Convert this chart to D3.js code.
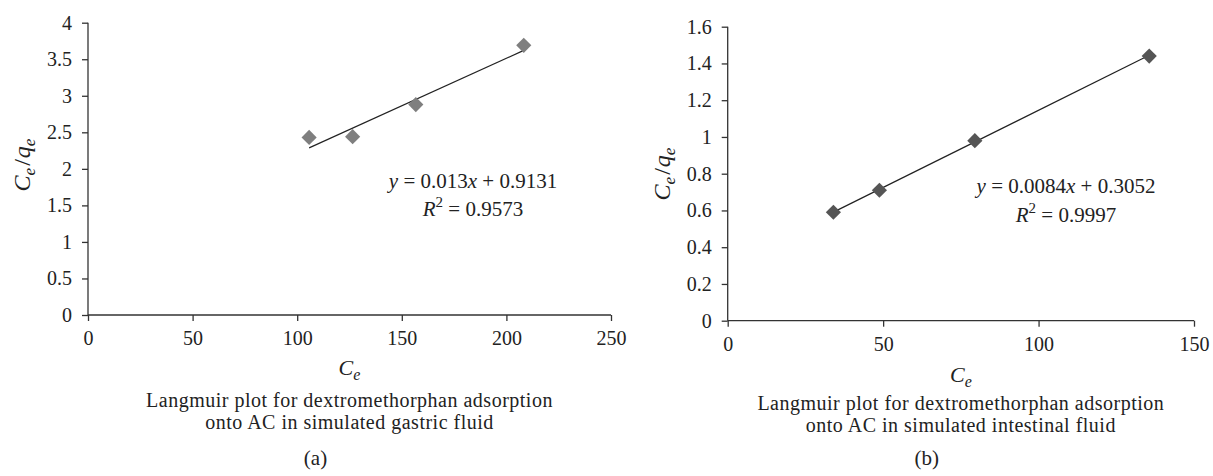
<!DOCTYPE html>
<html>
<head>
<meta charset="utf-8">
<script src="https://cdn.jsdelivr.net/npm/d3@7"></script>
<style>
  body { margin: 0; background: #fff; }
  svg { display: block; font-family: "Liberation Serif", "DejaVu Serif", serif; }
</style>
</head>
<body>
<svg id="chart" width="1213" height="476"></svg>
<script>
// data
const gastricCe = [105.7, 126.5, 156.7, 208.3];
const gastricRatio = [2.43, 2.44, 2.88, 3.69];
const gastricFit = [0.013, 0.9131]; // slope, intercept
const gastricR2 = "0.9573";
const gastricXTicks = [0, 50, 100, 150, 200, 250];
const gastricYTicks = [0, 0.5, 1, 1.5, 2, 2.5, 3, 3.5, 4];

const intestinalCe = [34.0, 48.8, 79.5, 135.6];
const intestinalRatio = [0.59, 0.71, 0.98, 1.44];
const intestinalFit = [0.0084, 0.3052];
const intestinalR2 = "0.9997";
const intestinalXTicks = [0, 50, 100, 150];
const intestinalYTicks = [0, 0.2, 0.4, 0.6, 0.8, 1, 1.2, 1.4, 1.6];

const svg = d3.select("#chart");

/**
 * draw one panel
 */
function panel(opt) {
  const x = d3.scaleLinear().domain(d3.extent(opt.xTicks)).range([opt.left, opt.right]);
  const y = d3.scaleLinear().domain(d3.extent(opt.yTicks)).range([opt.bottom, opt.top]);
  const g = svg.append("g");

  const xAxis = g.append("g")
    .attr("transform", `translate(0,${opt.bottom})`)
    .call(d3.axisBottom(x).tickValues(opt.xTicks).tickFormat(d => String(d)).tickSize(6).tickPadding(10));
  const yAxis = g.append("g")
    .attr("transform", `translate(${opt.left},0)`)
    .call(d3.axisLeft(y).tickValues(opt.yTicks).tickFormat(d => String(d)).tickSize(6).tickPadding(10));

  [xAxis, yAxis].forEach(a => {
    a.attr("font-family", null);
    a.select(".domain").attr("stroke", "#333").attr("stroke-width", 1.3);
    a.selectAll(".tick line").attr("stroke", "#333").attr("stroke-width", 1.3);
    a.selectAll(".tick text").attr("fill", "#222").style("font-size", "20px");
  });
  // plain axis lines, no outer ticks
  xAxis.select(".domain").attr("d", `M${opt.left},0H${opt.right}`);
  yAxis.select(".domain").attr("d", `M0,${opt.bottom}V${opt.top}`);

  // trend line over the data range
  const xs = d3.extent(opt.xs);
  g.append("line")
    .attr("x1", x(xs[0])).attr("y1", y(opt.fit[0] * xs[0] + opt.fit[1]))
    .attr("x2", x(xs[1])).attr("y2", y(opt.fit[0] * xs[1] + opt.fit[1]))
    .attr("stroke", "#222").attr("stroke-width", 1.2);

  // diamond markers
  g.selectAll("path.pt")
    .data(opt.xs.map((v, i) => [v, opt.ys[i]]))
    .enter()
    .append("path")
    .attr("class", "pt")
    .attr("d", d3.symbol(d3.symbolSquare, 115))
    .attr("transform", d => `translate(${x(d[0])},${y(d[1])}) rotate(45)`)
    .attr("fill", opt.markColor);

  // equation
  const eq = g.append("text")
    .attr("x", opt.eqX).attr("y", opt.eqY)
    .attr("text-anchor", "middle")
    .style("font-size", "21px").attr("fill", "#222");
  eq.append("tspan").style("font-style", "italic").text("y");
  eq.append("tspan").text(` = ${opt.fit[0]}`);
  eq.append("tspan").style("font-style", "italic").text("x");
  eq.append("tspan").text(` + ${opt.fit[1]}`);

  const r2 = g.append("text")
    .attr("x", opt.eqX).attr("y", opt.eqY + 28.5)
    .attr("text-anchor", "middle")
    .style("font-size", "21px").attr("fill", "#222");
  r2.append("tspan").style("font-style", "italic").text("R");
  r2.append("tspan").attr("dy", -9).style("font-size", "15px").text("2");
  r2.append("tspan").attr("dy", 9).text(` = ${opt.r2}`);

  // axis titles
  const cx = (opt.left + opt.right) / 2;
  const xt = g.append("text")
    .attr("x", cx).attr("y", opt.xTitleY)
    .attr("text-anchor", "middle")
    .style("font-size", "22px").style("font-style", "italic").attr("fill", "#222");
  xt.append("tspan").text("C");
  xt.append("tspan").attr("dy", 5).style("font-size", "16px").text("e");

  const yt = g.append("text")
    .attr("transform", `translate(${opt.yTitleX},${opt.yTitleY}) rotate(-90)`)
    .attr("text-anchor", "middle")
    .style("font-size", "24px").style("font-style", "italic").attr("fill", "#222");
  yt.append("tspan").text("C");
  yt.append("tspan").attr("dy", 5).style("font-size", "17px").text("e");
  yt.append("tspan").attr("dy", -5).attr("dx", 2).style("font-style", "normal").text("/");
  yt.append("tspan").attr("dx", 1).text("q");
  yt.append("tspan").attr("dy", 5).style("font-size", "17px").text("e");

  // caption, two lines
  opt.caption.forEach((line, i) => {
    g.append("text")
      .attr("x", cx).attr("y", opt.capY + i * 22.5)
      .attr("text-anchor", "middle")
      .style("font-size", "20px").style("letter-spacing", "0.5px").attr("fill", "#222")
      .text(line);
  });
  g.append("text")
    .attr("x", cx - 34).attr("y", 465)
    .attr("text-anchor", "middle")
    .style("font-size", "21px").attr("fill", "#222")
    .text(opt.tag);
}

panel({
  xs: gastricCe, ys: gastricRatio, fit: gastricFit, r2: gastricR2,
  xTicks: gastricXTicks, yTicks: gastricYTicks,
  left: 88, right: 611, top: 22.7, bottom: 315,
  markColor: "#7f7f7f",
  eqX: 473, eqY: 187.5,
  xTitleY: 375, yTitleX: 30, yTitleY: 165,
  caption: ["Langmuir plot for dextromethorphan adsorption", "onto AC in simulated gastric fluid"],
  capY: 406.5, tag: "(a)"
});

panel({
  xs: intestinalCe, ys: intestinalRatio, fit: intestinalFit, r2: intestinalR2,
  xTicks: intestinalXTicks, yTicks: intestinalYTicks,
  left: 727.7, right: 1194, top: 26.7, bottom: 320.7,
  markColor: "#555555",
  eqX: 1066, eqY: 193.3,
  xTitleY: 382, yTitleX: 670, yTitleY: 174,
  caption: ["Langmuir plot for dextromethorphan adsorption", "onto AC in simulated intestinal fluid"],
  capY: 409.7, tag: "(b)"
});
</script>
</body>
</html>
